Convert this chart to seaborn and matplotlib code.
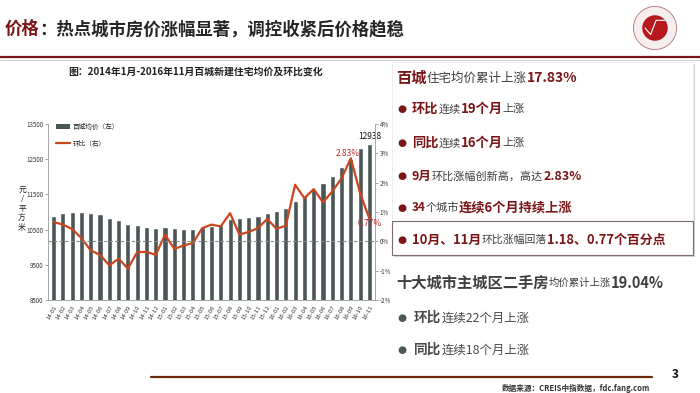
import matplotlib
matplotlib.use("Agg")
import matplotlib.pyplot as plt
from matplotlib.patches import Rectangle, Circle, Patch
from matplotlib.lines import Line2D
import seaborn as sns
import numpy as np

# === 1. data ===
months = ["14-01", "14-02", "14-03", "14-04", "14-05", "14-06", "14-07", "14-08", "14-09", "14-10",
          "14-11", "14-12", "15-01", "15-02", "15-03", "15-04", "15-05", "15-06", "15-07", "15-08",
          "15-09", "15-10", "15-11", "15-12", "16-01", "16-02", "16-03", "16-04", "16-05", "16-06",
          "16-07", "16-08", "16-09", "16-10", "16-11"]
avg_price = [10892, 10958, 11005, 11005, 10976, 10929, 10835, 10769, 10666, 10628,
             10581, 10543, 10571, 10543, 10524, 10524, 10562, 10600, 10628, 10788,
             10826, 10854, 10892, 10976, 11033, 11108, 11306, 11457, 11664, 11824,
             12012, 12266, 12511, 12822, 12938]
mom_pct = [0.66, 0.57, 0.42, 0.11, -0.31, -0.46, -0.82, -0.59, -0.93, -0.37,
           -0.36, -0.46, 0.23, -0.26, -0.14, -0.06, 0.45, 0.57, 0.51, 0.96,
           0.23, 0.32, 0.45, 0.76, 0.43, 0.53, 1.93, 1.47, 1.78, 1.33,
           1.70, 2.15, 2.83, 1.64, 0.77]
left_ticks = [8500, 9500, 10500, 11500, 12500, 13500]
right_ticks = [-2, -1, 0, 1, 2, 3, 4]

# === 2. colours / fonts ===
DARK_RED = "#7a1518"
GRAY_TXT = "#3f3f3f"
BAR_COL = "#4b5658"
LINE_COL = "#c9461f"

sns.set_style("white")
plt.rcParams["font.family"] = ["Noto Sans CJK SC", "DejaVu Sans"]

W, H = 700, 393
fig = plt.figure(figsize=(7, 3.93), dpi=100)
renderer = fig.canvas.get_renderer()


def fx(x):
    return x / W


def fy(y):
    return 1 - y / H


def draw_runs(x, y, runs):
    # runs: (text, size, colour, weight); y is the vertical centre in pixels
    for txt, size, col, weight in runs:
        t = fig.text(fx(x), fy(y), txt, fontsize=size, color=col, fontweight=weight,
                     ha="left", va="center")
        x += t.get_window_extent(renderer).width
    return x


# === 3. header ===
draw_runs(5, 29, [("价格", 12.5, DARK_RED, "bold"),
                  ("：热点城市房价涨幅显著，调控收紧后价格趋稳", 12.5, "#262626", "bold")])
fig.add_artist(Line2D([0, 1], [fy(57), fy(57)], color=DARK_RED, lw=1.6))
fig.add_artist(Line2D([0, 1], [fy(59.5), fy(59.5)], color="#c8c8c8", lw=0.6))

# logo
lax = fig.add_axes([fx(632), fy(50), fx(46), 44 / H])
lax.set_xlim(-1, 1)
lax.set_ylim(-1, 1)
lax.set_aspect("equal")
lax.axis("off")
lax.add_patch(Circle((0, 0), 0.98, facecolor="#f6eeee", edgecolor="#b07070", lw=0.6))
lax.add_patch(Circle((0, 0), 0.58, facecolor="#b5191e", edgecolor="none"))
lax.plot([-0.45, -0.2, 0.05, 0.45], [0.0, -0.3, 0.35, 0.35], color="white", lw=0.8)

# === 4. chart ===
fig.text(fx(196), fy(72), "图：2014年1月-2016年11月百城新建住宅均价及环比变化",
         fontsize=7.1, fontweight="bold", color="#222222", ha="center", va="center")

ax = fig.add_axes([fx(48), fy(300), fx(375 - 48), (300 - 124) / H])
sns.barplot(x=months, y=avg_price, color=BAR_COL, width=0.55, saturation=1, ax=ax)
ax.set_ylim(8500, 13500)
ax.set_yticks(left_ticks)
ax.set_yticklabels([str(v) for v in left_ticks], fontsize=4.5, color="#333333")
ax.set_xticks(range(len(months)))
ax.set_xticklabels(months, rotation=60, ha="right", rotation_mode="anchor",
                   fontsize=4.3, color="#333333")
ax.set_xlim(-0.6, len(months) - 0.4)
ax.tick_params(axis="both", length=2, width=0.5, color="#888888", pad=1.5, direction="out")
for side in ["top", "right"]:
    ax.spines[side].set_visible(False)
for side in ["left", "bottom"]:
    ax.spines[side].set_color("#999999")
    ax.spines[side].set_linewidth(0.6)
ax.set_ylabel("")

ax2 = ax.twinx()
sns.lineplot(x=np.arange(len(months)), y=mom_pct, color=LINE_COL, lw=1.6, sort=False, ax=ax2)
ax2.set_ylim(-2, 4)
ax2.set_yticks(right_ticks)
ax2.set_yticklabels([f"{v}%" for v in right_ticks], fontsize=4.5, color="#333333")
ax2.axhline(0, color="#8c8c8c", ls="--", lw=0.8, dashes=(3, 2))
ax2.tick_params(axis="y", length=2, width=0.5, color="#888888", pad=1.5)
for side in ["top", "left", "bottom"]:
    ax2.spines[side].set_visible(False)
ax2.spines["right"].set_color("#999999")
ax2.spines["right"].set_linewidth(0.6)

last = len(months) - 1
ax.text(last, avg_price[last] + 90, f"{avg_price[last]}", fontsize=6, color="#111111",
        ha="center", va="bottom")
peak = int(np.argmax(mom_pct))
ax2.text(peak - 0.3, mom_pct[peak] + 0.02, f"{mom_pct[peak]:.2f}%", fontsize=6, color="#c0282d",
         ha="center", va="bottom")
ax2.text(last, mom_pct[last] - 0.15, f"{mom_pct[last]:.2f}%", fontsize=6, color="#c0282d",
         ha="center", va="center")

handles = [Patch(facecolor=BAR_COL, edgecolor="none"),
           Line2D([], [], color=LINE_COL, lw=1.6)]
ax.legend(handles, ["百城均价（左）", "环比（右）"], loc="upper left", frameon=False,
          fontsize=4.8, bbox_to_anchor=(0.005, 1.04), handlelength=2.2, handleheight=0.6,
          labelspacing=1.3, handletextpad=0.4)

fig.text(fx(22), fy(209), "\n".join("元/平方米"), fontsize=5.6, color="#222222",
         ha="center", va="center", linespacing=1.25)

# === 5. right panel ===
fig.add_artist(Rectangle((fx(394), fy(257)), fx(301), (257 - 64) / H, facecolor="#d4d4d4",
                         edgecolor="none", transform=fig.transFigure, zorder=0))
fig.add_artist(Rectangle((fx(392), fy(255)), fx(301), (255 - 62) / H, facecolor="white",
                         edgecolor="#e8e8e8", lw=0.5, transform=fig.transFigure, zorder=0.5))
fig.add_artist(Rectangle((fx(392), fy(255)), fx(301), (255 - 221) / H, facecolor="white",
                         edgecolor="#7d6b6b", lw=0.8, transform=fig.transFigure, zorder=0.6))

draw_runs(396, 78, [("百城", 11, DARK_RED, "bold"), ("住宅均价累计上涨", 9, GRAY_TXT, "normal"),
                    ("17.83%", 10, DARK_RED, "bold")])

red_rows = [
    (109, [("环比", 9.5, DARK_RED, "bold"), ("连续", 8, GRAY_TXT, "normal"),
           ("19个月", 9.5, DARK_RED, "bold"), ("上涨", 8, GRAY_TXT, "normal")]),
    (143, [("同比", 9.5, DARK_RED, "bold"), ("连续", 8, GRAY_TXT, "normal"),
           ("16个月", 9.5, DARK_RED, "bold"), ("上涨", 8, GRAY_TXT, "normal")]),
    (176, [("9月", 9, DARK_RED, "bold"), ("环比涨幅创新高，高达", 8, GRAY_TXT, "normal"),
           ("2.83%", 9, DARK_RED, "bold")]),
    (208, [("34", 8.5, DARK_RED, "bold"), ("个城市", 8, GRAY_TXT, "normal"),
           ("连续6个月持续上涨", 9.5, DARK_RED, "bold")]),
    (240, [("10月、11月", 9.3, DARK_RED, "bold"), ("环比涨幅回落", 7.8, GRAY_TXT, "normal"),
           ("1.18、0.77个百分点", 9.3, DARK_RED, "bold")]),
]
for y, runs in red_rows:
    fig.text(fx(402), fy(y), "●", fontsize=7.5, color=DARK_RED, ha="center", va="center",
             family="DejaVu Sans")
    draw_runs(412, y, runs)

draw_runs(396, 283, [("十大城市主城区二手房", 11, GRAY_TXT, "bold"),
                     ("均价累计上涨", 7.5, GRAY_TXT, "normal"),
                     ("19.04%", 10.5, GRAY_TXT, "bold")])
gray_rows = [
    (318, [("环比", 9.8, "#4a4a4a", "bold"), ("连续22个月上涨", 8.9, "#4a4a4a", "normal")]),
    (350, [("同比", 9.8, "#4a4a4a", "bold"), ("连续18个月上涨", 8.9, "#4a4a4a", "normal")]),
]
for y, runs in gray_rows:
    fig.text(fx(402), fy(y), "●", fontsize=7.5, color="#4d5656", ha="center", va="center",
             family="DejaVu Sans")
    draw_runs(414, y, runs)

# === 6. footer ===
fig.add_artist(Line2D([fx(151), fx(652)], [fy(377), fy(377)], color="#6b2a0e", lw=1.6))
fig.text(fx(675), fy(375), "3", fontsize=8.5, fontweight="bold", color="#111111",
         ha="center", va="center")
fig.text(fx(650), fy(388), "数据来源：CREIS中指数据，fdc.fang.com", fontsize=5.5,
         fontweight="bold", color="#333333", ha="right", va="center")

fig.savefig("out.png", dpi=100)
plt.close(fig)
